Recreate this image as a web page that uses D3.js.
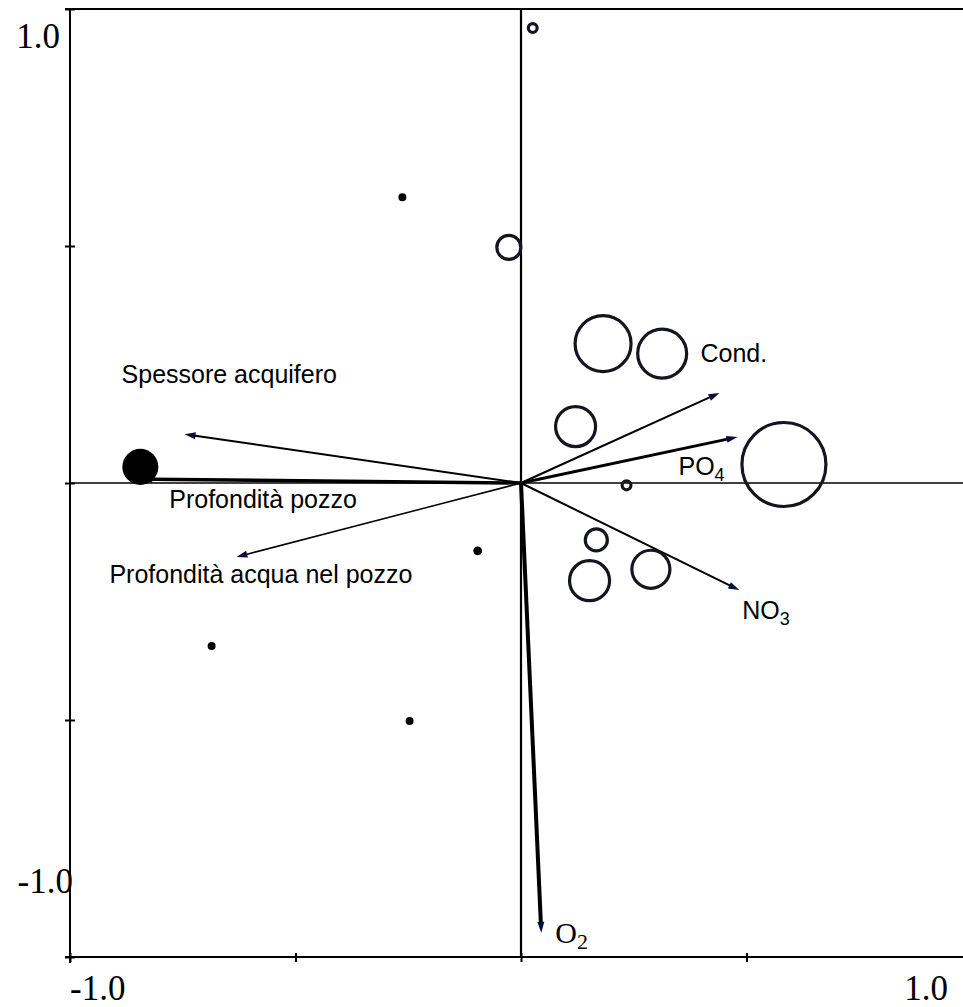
<!DOCTYPE html>
<html>
<head>
<meta charset="utf-8">
<script src="https://cdn.jsdelivr.net/npm/d3@7.9.0/dist/d3.min.js"></script>
<style>
  html, body { margin: 0; padding: 0; background: #fff; }
  svg { display: block; }
  .var-label { font-family: "Liberation Sans", Arial, sans-serif; font-size: 25px; fill: #000; }
  .serif { font-family: "Liberation Serif", "Times New Roman", serif; fill: #000; }
</style>
</head>
<body>
<svg id="plot" width="963" height="1007"></svg>
<script>
// site scores (samples)
const siteX = [0.026, -0.263, -0.027, 0.182, 0.313, 0.121, 0.583, 0.234, -0.844, 0.167, 0.152, 0.288, -0.096, -0.686, -0.247];
const siteY = [0.960, 0.603, 0.497, 0.294, 0.273, 0.119, 0.039, -0.005, 0.034, -0.120, -0.206, -0.182, -0.143, -0.344, -0.502];
const siteSize = [1.1, 0.9, 8.2, 44.4, 34.0, 22.7, 100, 1.1, 18.4, 6.9, 22.7, 20.5, 1.1, 0.9, 0.9];
const siteFilled = [false, true, false, false, false, false, false, false, true, false, false, false, true, true, true];

// environmental variables (arrows)
const varNames = ['Spessore acquifero', 'Profondità pozzo', 'Profondità acqua nel pozzo', 'Cond.', 'PO4', 'NO3', 'O2'];
const varX = [-0.746, -0.842, -0.631, 0.440, 0.480, 0.484, 0.045];
const varY = [0.103, 0.008, -0.156, 0.190, 0.097, -0.226, -0.949];

const tickValues = [-1, -0.5, 0, 0.5, 1];

// label look per arrow (offset from tip, in px), line width
const varStyle = [
  { dx: -63, dy: -51, w: 2 },
  { dx: 28, dy: 29, w: 3.5 },
  { dx: -127, dy: 26, w: 1.5 },
  { dx: -19, dy: -31, w: 2 },
  { dx: -59, dy: 38, w: 3 },
  { dx: 3, dy: 29, w: 2 },
  { dx: 14, dy: 10, w: 4, serif: true }
];

const svg = d3.select('#plot');
const x = d3.scaleLinear().domain([-1, 1]).range([70, 972]);
const y = d3.scaleLinear().domain([-1, 1]).range([957, 9]);
const r = d3.scaleSqrt().domain([0, 100]).range([0, 42]);

const ink = '#15151f';
const headFill = '#0b0b38';

// frame: top line, left + bottom axes
svg.append('line')
  .attr('x1', 65).attr('x2', 963)
  .attr('y1', y(1)).attr('y2', y(1))
  .attr('stroke', '#000').attr('stroke-width', 2);

const xAxis = svg.append('g')
  .attr('transform', `translate(0,${y(-1)})`)
  .call(d3.axisBottom(x).tickValues(tickValues).tickSize(5).tickFormat(''));
xAxis.select('.domain').attr('d', `M65,0H963`).attr('stroke-width', 2);
xAxis.selectAll('.tick line').attr('y1', -4).attr('stroke-width', 2);

const yAxis = svg.append('g')
  .attr('transform', `translate(${x(-1)},0)`)
  .call(d3.axisLeft(y).tickValues(tickValues).tickSize(5).tickFormat(''));
yAxis.select('.domain').attr('d', `M0,${y(1) - 1}V${y(-1) + 6}`).attr('stroke-width', 2);
yAxis.selectAll('.tick line').attr('x1', 5).attr('x2', -5).attr('stroke-width', 2);

// zero lines
svg.append('line')
  .attr('x1', x(-1)).attr('x2', 963)
  .attr('y1', y(0)).attr('y2', y(0))
  .attr('stroke', '#000').attr('stroke-width', 1.6);
svg.append('line')
  .attr('x1', x(0)).attr('x2', x(0))
  .attr('y1', y(1)).attr('y2', y(-1))
  .attr('stroke', '#000').attr('stroke-width', 2.2);

// tick labels
const tl = svg.append('g').attr('class', 'serif').style('font-size', '35px');
tl.append('text').attr('x', 60).attr('y', y(1) + 39).attr('text-anchor', 'end').text('1.0');
tl.append('text').attr('x', 73).attr('y', y(-1) - 64).attr('text-anchor', 'end').text('-1.0');
tl.append('text').attr('x', x(-1)).attr('y', 1000).text('-1.0');
tl.append('text').attr('x', 948).attr('y', 1000).attr('text-anchor', 'end').text('1.0');

// arrows
const vars = varNames.map((n, i) => ({ name: n, x: varX[i], y: varY[i], ...varStyle[i] }));
const ag = svg.append('g');
vars.forEach(d => {
  const x1 = x(d.x), y1 = y(d.y), x0 = x(0), y0 = y(0);
  const ang = Math.atan2(y1 - y0, x1 - x0);
  const len = 11, half = 3.5;
  const bx = x1 - len * Math.cos(ang), by = y1 - len * Math.sin(ang);
  ag.append('line')
    .attr('x1', x0).attr('y1', y0)
    .attr('x2', bx + 2 * Math.cos(ang)).attr('y2', by + 2 * Math.sin(ang))
    .attr('stroke', '#000').attr('stroke-width', d.w);
  const pts = [
    [x1, y1],
    [bx - half * Math.sin(ang), by + half * Math.cos(ang)],
    [bx + half * Math.sin(ang), by - half * Math.cos(ang)]
  ];
  ag.append('path').attr('d', d3.line()(pts) + 'Z').attr('fill', headFill);

  const m = d.name.match(/^([A-Z]+)(\d)$/);
  const t = ag.append('text')
    .attr('x', x1 + d.dx).attr('y', y1 + d.dy);
  if (d.serif) t.attr('class', 'serif').style('font-size', '30px');
  else t.attr('class', 'var-label');
  if (m) {
    t.append('tspan').text(m[1]);
    t.append('tspan').attr('dy', 6).style('font-size', d.serif ? '22px' : '18px').text(m[2]);
  } else {
    t.text(d.name);
  }
});

// sites on top so the filled symbol hides the arrow tip
const sites = siteX.map((d, i) => ({ x: d, y: siteY[i], s: siteSize[i], filled: siteFilled[i] }));
svg.append('g').selectAll('circle')
  .data(sites)
  .join('circle')
  .attr('cx', d => x(d.x))
  .attr('cy', d => y(d.y))
  .attr('r', d => r(d.s))
  .attr('fill', d => d.filled ? '#000' : 'none')
  .attr('stroke', d => d.filled ? 'none' : ink)
  .attr('stroke-width', 3.2);
</script>
</body>
</html>
